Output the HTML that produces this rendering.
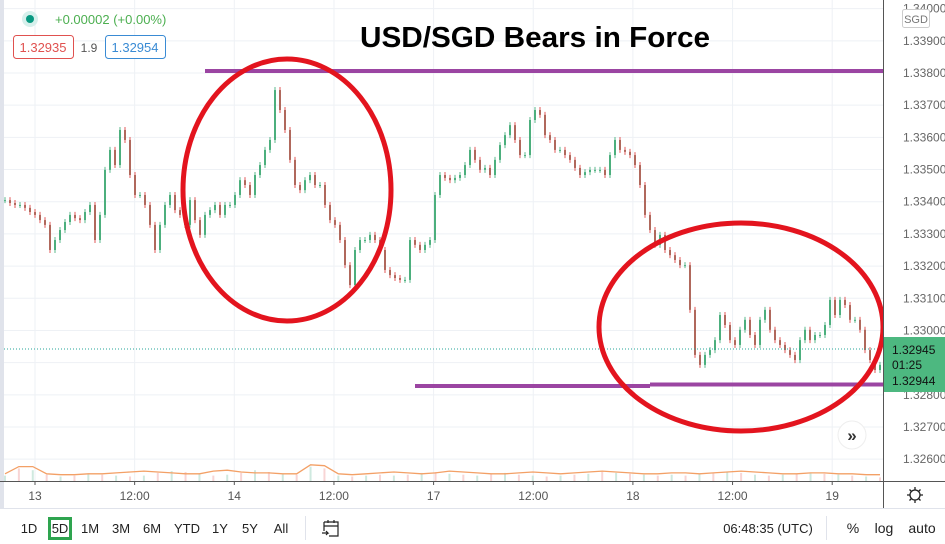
<!DOCTYPE html>
<html><head><meta charset="utf-8">
<style>
body{margin:0;width:945px;height:544px;overflow:hidden;background:#fff;font-family:"Liberation Sans",sans-serif;}
svg{display:block}
</style></head>
<body>
<svg id="c" width="945" height="544">
  <rect x="0" y="0" width="945" height="544" fill="#fff"/>
  <rect x="0" y="0" width="4" height="508" fill="#e0e3eb"/>
  <g id="grid"></g>
  <g id="vol"></g>
  <g id="candles"></g>
  <line x1="4" y1="349" x2="883" y2="349" stroke="#26a69a" stroke-dasharray="1,2"/>
  <text x="535" y="47" text-anchor="middle" font-size="29" font-weight="bold" fill="#000" textLength="350" lengthAdjust="spacingAndGlyphs">USD/SGD Bears in Force</text>
  <line x1="205" y1="71" x2="883" y2="71" stroke="#9b45a2" stroke-width="4"/>
  <line x1="415" y1="386" x2="650" y2="386" stroke="#9b45a2" stroke-width="4"/>
  <line x1="650" y1="384.5" x2="883" y2="384.5" stroke="#9b45a2" stroke-width="4"/>
  <ellipse cx="287" cy="190" rx="104" ry="131" fill="none" stroke="#e3141e" stroke-width="5"/>
  <ellipse cx="741" cy="327" rx="142" ry="104" fill="none" stroke="#e3141e" stroke-width="5"/>
  <circle cx="30" cy="19" r="8" fill="#d6f0ec"/>
  <circle cx="30" cy="19" r="4" fill="#089981"/>
  <text x="55" y="24" font-size="13" fill="#4caf50">+0.00002 (+0.00%)</text>
  <rect x="13.5" y="35.5" width="60" height="23" rx="3" fill="#fff" stroke="#e0514f"/>
  <text x="43" y="52" text-anchor="middle" font-size="13" fill="#e0514f">1.32935</text>
  <text x="89" y="52" text-anchor="middle" font-size="12" fill="#555">1.9</text>
  <rect x="105.5" y="35.5" width="60" height="23" rx="3" fill="#fff" stroke="#3a8bd4"/>
  <text x="135" y="52" text-anchor="middle" font-size="13" fill="#3a8bd4">1.32954</text>
  <rect x="884" y="0" width="61" height="481" fill="#fff"/>
  <line x1="883.5" y1="0" x2="883.5" y2="508" stroke="#555"/>
  <line x1="0" y1="481.5" x2="945" y2="481.5" stroke="#555"/>
  <g id="yaxis"></g>
  <g id="xaxis"></g>
  <rect x="902.5" y="9.5" width="27" height="18" rx="2" fill="#fff" stroke="#ccc"/>
  <text x="916" y="23" text-anchor="middle" font-size="11" fill="#777">SGD</text>
  <rect x="884" y="337" width="61" height="55" fill="#4db880"/>
  <text x="892" y="354" font-size="12" fill="#111">1.32945</text>
  <text x="892" y="369" font-size="12" fill="#111">01:25</text>
  <text x="892" y="385" font-size="12" fill="#111">1.32944</text>
  <circle cx="852" cy="435" r="14" fill="#fff" stroke="#eee"/>
  <text x="852" y="441" text-anchor="middle" font-size="17" font-weight="bold" fill="#333">»</text>
  <g>
    <circle cx="915" cy="495" r="5" fill="none" stroke="#222" stroke-width="1.3"/>
    <path d="M915 487v3M915 500v3M907 495h3M920 495h3M909.5 489.5l2 2M918.5 498.5l2 2M909.5 500.5l2-2M918.5 491.5l2-2" stroke="#222" stroke-width="1.3"/>
  </g>
  <line x1="0" y1="508.5" x2="945" y2="508.5" stroke="#e0e3eb"/>
  <rect x="48" y="517" width="24" height="23" fill="#2ea44f"/>
  <rect x="51" y="520" width="18" height="17" fill="#fff"/>
  <g font-size="13" fill="#222" text-anchor="middle">
    <text x="29" y="533">1D</text>
    <text x="60" y="533">5D</text>
    <text x="90" y="533">1M</text>
    <text x="121" y="533">3M</text>
    <text x="152" y="533">6M</text>
    <text x="187" y="533">YTD</text>
    <text x="220" y="533">1Y</text>
    <text x="250" y="533">5Y</text>
    <text x="281" y="533">All</text>
    <text x="768" y="533">06:48:35 (UTC)</text>
    <text x="853" y="533" font-size="14">%</text>
    <text x="884" y="533" font-size="14">log</text>
    <text x="922" y="533" font-size="14">auto</text>
  </g>
  <line x1="305.5" y1="516" x2="305.5" y2="540" stroke="#e0e3eb"/>
  <line x1="826.5" y1="516" x2="826.5" y2="540" stroke="#e0e3eb"/>
  <g fill="none" stroke="#222" stroke-width="1.2">
    <path d="M324 522h14v14h-9M324 522v9M324 526h14M328 520v3M334 520v3M322 533h6l-2-2M328 533l-2 2"/>
  </g>
</svg>
<script>
const priceTicks=[1.340,1.339,1.338,1.337,1.336,1.335,1.334,1.333,1.332,1.331,1.330,1.329,1.328,1.327,1.326];
const timeLabels=["13","12:00","14","12:00","17","12:00","18","12:00","19"];
const timeSlots=[0,0.5,1,1.5,2,2.5,3,3.5,4];
const closes=[1.33405,1.33396,1.33390,1.33390,1.33381,1.33368,1.33359,1.33343,1.33328,1.33250,
1.33281,1.33312,1.33337,1.33359,1.33349,1.33343,1.33368,1.33390,1.33281,1.33359,
1.33499,1.33561,1.33514,1.33623,1.33592,1.33483,1.33421,1.33421,1.33390,1.33328,
1.33250,1.33328,1.33390,1.33421,1.33374,1.33359,1.33328,1.33405,1.33343,1.33297,
1.33359,1.33374,1.33390,1.33359,1.33390,1.33390,1.33421,1.33467,1.33452,1.33421,
1.33483,1.33514,1.33561,1.33592,1.33747,1.33685,1.33623,1.33530,1.33452,1.33436,
1.33467,1.33483,1.33452,1.33452,1.33390,1.33343,1.33328,1.33281,1.33203,1.33141,
1.33250,1.33281,1.33281,1.33297,1.33281,1.33250,1.33188,1.33172,1.33163,1.33157,
1.33157,1.33281,1.33266,1.33250,1.33266,1.33281,1.33421,1.33483,1.33474,1.33467,
1.33474,1.33483,1.33514,1.33561,1.33530,1.33499,1.33505,1.33483,1.33530,1.33576,
1.33607,1.33638,1.33592,1.33545,1.33545,1.33654,1.33685,1.33670,1.33607,1.33592,
1.33561,1.33561,1.33545,1.33530,1.33505,1.33483,1.33492,1.33499,1.33499,1.33499,
1.33483,1.33545,1.33592,1.33561,1.33555,1.33545,1.33514,1.33452,1.33359,1.33312,
1.33266,1.33297,1.33250,1.33234,1.33219,1.33203,1.33203,1.33064,1.32924,1.32893,
1.32924,1.32939,1.32970,1.33048,1.33017,1.32970,1.32955,1.33002,1.33033,1.32986,
1.32955,1.33033,1.33064,1.33002,1.32970,1.32955,1.32939,1.32924,1.32908,1.32970,
1.33002,1.32970,1.32986,1.32986,1.33017,1.33095,1.33048,1.33095,1.33079,1.33033,
1.33033,1.33002,1.32939,1.32908,1.32877,1.32893];
const volumes=[6,14,12,7,5,6,8,7,6,5,6,9,11,10,8,6,7,9,12,10,8,7,16,14,6,5,6,7,6,7,9,10,8,7,6,8,9,7,6,5,6,7,8,10,9,8,7,6,7,6,8,9,10,9,7,6,7,8,9,8,7,6,5,4];
const volumeMA=[8,16,16,8,7,7,8,8,9,10,11,10,9,8,8,11,12,10,9,9,8,8,18,17,8,7,8,9,10,9,8,9,11,10,9,8,8,9,10,9,8,9,10,11,10,9,8,8,9,9,8,9,10,11,10,9,8,8,9,9,8,8,7,7];
const NS='http://www.w3.org/2000/svg';
function mk(t,a,p){const e=document.createElementNS(NS,t);for(const k in a)e.setAttribute(k,a[k]);p.appendChild(e);return e;}
function yScale(p){return 73+(1.338-p)*32182;}
function xTime(t){return 35+t*199.3;}
function xIdx(i){return 5+i*(875/(closes.length-1));}
function xVol(i){return 5+i*(875/(volumes.length-1));}
function yVol(v){return 481-v*0.9;}
const grid=document.getElementById('grid'),yax=document.getElementById('yaxis'),xax=document.getElementById('xaxis');
priceTicks.forEach(p=>{const y=yScale(p);
 const l=mk('line',{x1:4,y1:y,x2:883,y2:y,stroke:'#eef1f5'},grid);
 
 
 const t=mk('text',{x:903,y:y+4,'font-size':12,fill:'#666'},yax);
 t.textContent=p.toFixed(5);
 
 
});
timeSlots.forEach((s,i)=>{const x=xTime(s);
 const l=mk('line',{x1:x,y1:0,x2:x,y2:481,stroke:'#eef1f5'},grid);
 
 
 const tk=mk('line',{x1:x,y1:481,x2:x,y2:485,stroke:'#555'},xax);
 
 
 const t=mk('text',{x:x,y:500,'font-size':12,fill:'#555','text-anchor':'middle'},xax);
 t.textContent=timeLabels[i];
 
 
});
const vg=document.getElementById('vol');
volumes.forEach((v,i)=>{const x=xVol(i);
 const b=mk('rect',{x:x-1,y:yVol(v),width:2,height:481-yVol(v),fill:i%2?'#f8d5d5':'#cfe9df'},vg);
 
 
});
const ma=mk('polyline',{points:volumeMA.map((v,i)=>xVol(i)+','+yVol(v)).join(' '),fill:'none',stroke:'#f3a066','stroke-width':1.3},vg);


const cg=document.getElementById('candles');
closes.forEach((c,i)=>{const o=i?closes[i-1]:c;const x=xIdx(i);
 const up=c>=o;const col=up?'#5cb88c':'#e05a5a';
 const yt=yScale(Math.max(o,c)),yb=yScale(Math.min(o,c));
 const w=mk('line',{x1:x,y1:yt-3,x2:x,y2:yb+3,stroke:col,'stroke-width':1},cg);
 
 
 const b=mk('rect',{x:x-1,y:yt,width:2,height:Math.max(1,yb-yt),fill:up?'#4caf7d':'#b0685c'},cg);
 
 
});
</script>
</body></html>
